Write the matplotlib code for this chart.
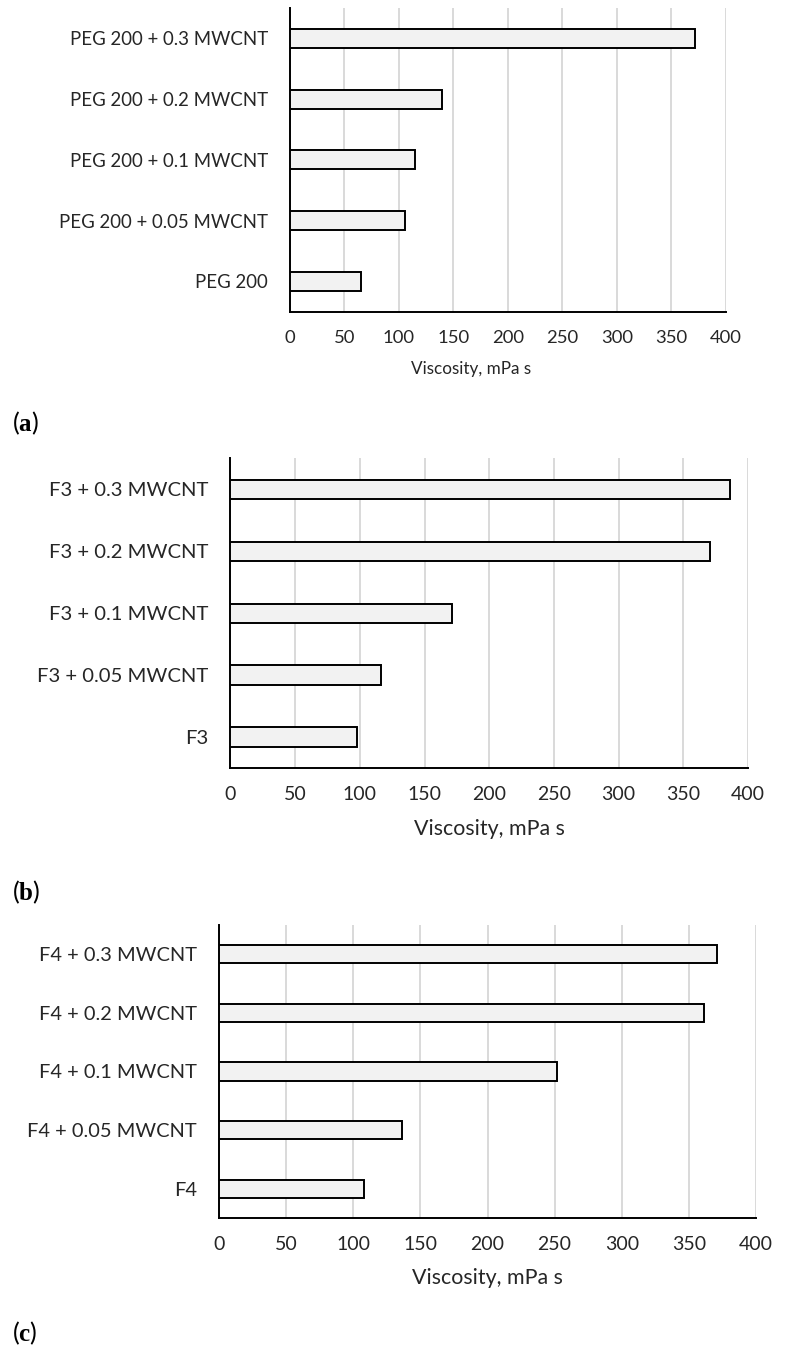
import matplotlib
matplotlib.use("Agg")
import matplotlib.pyplot as plt

# ---- data ----
labels_a = ["PEG 200", "PEG 200 + 0.05 MWCNT", "PEG 200 + 0.1 MWCNT",
            "PEG 200 + 0.2 MWCNT", "PEG 200 + 0.3 MWCNT"]
values_a = [65, 106, 115, 140, 372]

labels_b = ["F3", "F3 + 0.05 MWCNT", "F3 + 0.1 MWCNT",
            "F3 + 0.2 MWCNT", "F3 + 0.3 MWCNT"]
values_b = [98, 116, 171, 371, 386]

labels_c = ["F4", "F4 + 0.05 MWCNT", "F4 + 0.1 MWCNT",
            "F4 + 0.2 MWCNT", "F4 + 0.3 MWCNT"]
values_c = [108, 136, 252, 361, 371]

xticks = [0, 50, 100, 150, 200, 250, 300, 350, 400]
xlabel = "Viscosity, mPa s"
panel_tags = ["a", "b", "c"]

plt.rcParams['font.family'] = ['Lato', 'DejaVu Sans']
plt.rcParams['mathtext.fontset'] = 'custom'
plt.rcParams['mathtext.rm'] = 'Liberation Serif'
plt.rcParams['mathtext.bf'] = 'Liberation Serif:bold'

W, H = 787, 1364
fig = plt.figure(figsize=(W / 100, H / 100), dpi=100)

# layout in pixels: left, right, top, bottom, label fs, tick fs,
# xlabel fs, xlabel (x, y), tag y
layouts = [
    (290, 725.7, 8, 311.7, 13.4, 13.3, 12.3, (471, 369), 423),
    (230.5, 748, 458.3, 768, 14.6, 14.0, 15.4, (489, 829), 892),
    (219, 756, 925, 1218, 14.4, 14.0, 15.4, (487.5, 1278), 1333),
]
datasets = [(labels_a, values_a), (labels_b, values_b), (labels_c, values_c)]

text_col = '#262626'
for (lab, val), lay, tag in zip(datasets, layouts, panel_tags):
    l, r, t, b, fs, tfs, xfs, (xlx, xly), tagy = lay
    ax = fig.add_axes([l / W, 1 - b / H, (r - l) / W, (b - t) / H])
    ypos = list(range(len(lab)))
    ax.barh(ypos, val, height=0.31, color='#f2f2f2', edgecolor='black',
            linewidth=1.4, zorder=3)
    ax.set_xlim(0, 400)
    ax.set_ylim(-0.5, len(lab) - 0.5)
    ax.set_xticks(xticks)
    ax.set_xticklabels([str(v) for v in xticks], fontsize=tfs, color=text_col)
    ax.set_yticks(ypos)
    ax.set_yticklabels(lab, fontsize=fs, color=text_col)
    ax.tick_params(axis='both', length=0)
    ax.tick_params(axis='x', pad=13)
    ax.tick_params(axis='y', pad=16)
    ax.grid(axis='x', color='#d9d9d9', linewidth=1.4, zorder=0)
    ax.set_axisbelow(True)
    for s in ['top', 'right']:
        ax.spines[s].set_visible(False)
    for s in ['left', 'bottom']:
        ax.spines[s].set_linewidth(1.4)
        ax.spines[s].set_color('black')
    fig.text(xlx / W, 1 - xly / H, xlabel, fontsize=xfs, color=text_col,
             ha='center', va='center')
    fig.text(12 / W, 1 - tagy / H, r"($\mathbf{" + tag + r"}$)", fontsize=18,
             va='center', ha='left', color='black')

fig.savefig("out.png", dpi=100, facecolor='white')
